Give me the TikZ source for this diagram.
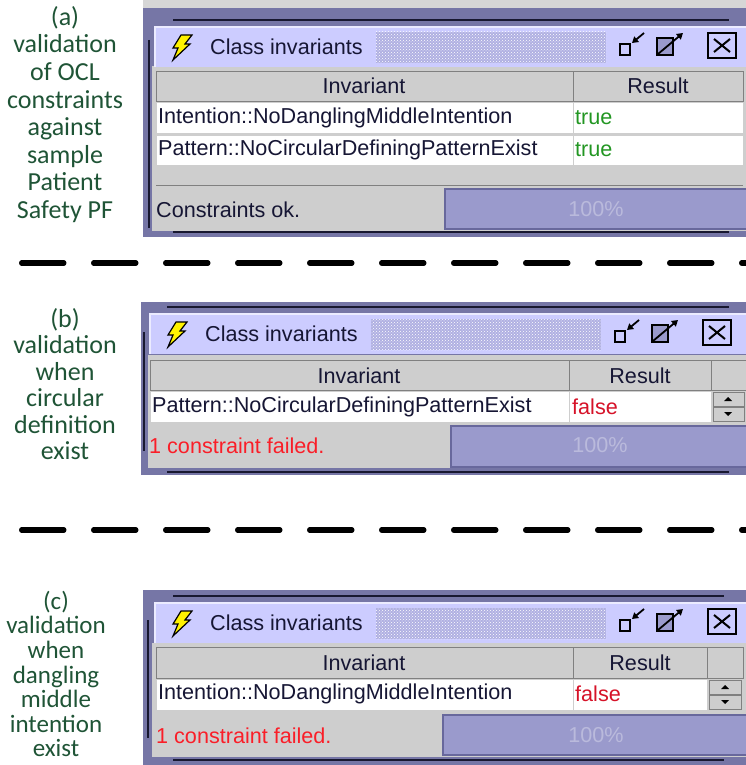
\documentclass[tikz,border=0pt]{standalone}
\usepackage{fontspec}
\setmainfont{Liberation Sans}
\newfontfamily\labelfont{Carlito}
\usetikzlibrary{patterns,arrows.meta}

\definecolor{framegray}{RGB}{118,118,166}
\definecolor{stripgray}{RGB}{214,214,214}
\definecolor{titlelav}{RGB}{204,204,255}
\definecolor{dotlav}{RGB}{176,176,226}
\definecolor{cellgray}{RGB}{206,206,206}
\definecolor{barblue}{RGB}{154,154,204}
\definecolor{barline}{RGB}{104,104,156}
\definecolor{darkline}{RGB}{24,24,48}
\definecolor{wincolor}{RGB}{22,22,52}
\definecolor{okgreen}{RGB}{34,150,34}
\definecolor{failred}{RGB}{214,18,40}
\definecolor{msgred}{RGB}{250,30,40}
\definecolor{pcttext}{RGB}{186,186,220}
\definecolor{capgreen}{RGB}{31,84,54}

\tikzset{
  caption/.style={text=capgreen, align=center, inner sep=0pt},
  wintext/.style={font=\fontsize{21.6}{24}\selectfont, text=wincolor, inner sep=0pt},
  darkrule/.style={draw=darkline, line width=2pt},
  headcell/.style={fill=cellgray, draw=gray},
  bodycell/.style={fill=white, draw=cellgray},
  scrollbtn/.style={fill=cellgray, draw=gray, line width=1pt},
  progress/.style={fill=barblue, draw=barline, line width=1.5pt},
  icon/.style={draw=black, line width=1.8pt},
  sepline/.style={draw=black, line width=5.5pt, line cap=round, dash pattern=on 42pt off 30pt}
}

% title bar of one "Class invariants" window, #1,#2 = top left, #3 = name prefix
\newcommand{\wintitle}[3]{%
  \begin{scope}[shift={(#1,#2)}]
    \fill[titlelav] (0,0) rectangle (600,40);
    \draw[white!60!titlelav, line width=1.5pt] (0,40) -- (0,0) -- (600,0);
    \fill[dotlav] (221,5) rectangle (451,36);
    \fill[pattern=crosshatch dots, pattern color=white] (221,5) rectangle (451,36);
    \filldraw[fill=yellow, draw=black, line width=1.2pt] (26,8) -- (37,8) -- (30,17) -- (35,17) -- (18,33) -- (23,21) -- (18,21) -- cycle;
    \node[wintext, anchor=west] (#3-title) at (55,20) {Class invariants};
    \draw[icon] (465,17) rectangle (475,28);
    \draw[icon, -{Triangle[length=6pt,width=7pt]}] (489,6) -- (477,16);
    \filldraw[icon, fill=barblue] (502,11) rectangle (518,28);
    \draw[icon, -{Triangle[length=6pt,width=7pt]}] (503,27) -- (528,6);
    \filldraw[icon, line width=2.5pt, fill=titlelav] (553,6) rectangle (581,31);
    \draw[icon, line width=2pt] (559,12) -- (575,25) (559,25) -- (575,12);
  \end{scope}}

\begin{document}
\begin{tikzpicture}[x=1pt,y=-1pt]
  \useasboundingbox (0,0) rectangle (746,765);
  \clip (0,0) rectangle (746,765);

  \node[caption, font=\labelfont\fontsize{26}{27.6}\selectfont] (capa) at (65,114.5) {(a)\\validation\\of OCL\\constraints\\against\\sample\\Patient\\Safety PF};
  \node[caption, font=\labelfont\fontsize{26}{26.4}\selectfont] (capb) at (65,384) {(b)\\validation\\when\\circular\\definition\\exist};
  \node[caption, font=\labelfont\fontsize{25}{24.6}\selectfont] (capc) at (56,674) {(c)\\validation\\when\\dangling\\middle\\intention\\exist};

  % (a)
  \fill[stripgray] (143,0) rectangle (746,8);
  \fill[framegray] (143,8) rectangle (746,237);
  \draw[darkrule] (173,20) -- (729,20);
  \draw[darkrule] (149,40) -- (149,228);
  \fill[cellgray] (152,66) rectangle (746,231);
  \wintitle{155}{27}{a}
  \draw[headcell] (156,71) rectangle (573,101);
  \draw[headcell] (573,71) rectangle (743,101);
  \draw[bodycell] (156,102) rectangle (573,133);
  \draw[bodycell] (573,102) rectangle (743,133);
  \draw[bodycell] (156,135) rectangle (573,165);
  \draw[bodycell] (573,135) rectangle (743,165);
  \draw[gray] (156,185) -- (743,185);
  \fill[cellgray] (155,189) rectangle (445,229);
  \draw[progress] (445,189) rectangle (750,229);
  \draw[darkrule] (173,232) -- (729,232);
  \node[wintext] (a-inv) at (364,86) {Invariant};
  \node[wintext] (a-res) at (658,86) {Result};
  \node[wintext, anchor=west] (a-row1) at (158,118) {Intention::NoDanglingMiddleIntention};
  \node[wintext, anchor=west, text=okgreen] (a-val1) at (575,118) {true};
  \node[wintext, anchor=west] (a-row2) at (158,150) {Pattern::NoCircularDefiningPatternExist};
  \node[wintext, anchor=west, text=okgreen] (a-val2) at (575,150) {true};
  \node[wintext, anchor=west] (a-msg) at (156,210) {Constraints ok.};
  \node[wintext, text=pcttext] (a-pct) at (596,209) {100\%};

  \coordinate (sep1w) at (21.75,263);
  \coordinate (sep1e) at (760,263);
  \draw[sepline] (sep1w) -- (sep1e);

  % (b)
  \fill[framegray] (141,302) rectangle (746,475);
  \draw[darkrule] (167,307) -- (729,307);
  \draw[darkrule] (144,332) -- (144,451);
  \fill[cellgray] (148,355) rectangle (746,468);
  \wintitle{150}{314}{b}
  \draw[headcell] (150,360) rectangle (569,390);
  \draw[headcell] (569,360) rectangle (711,390);
  \draw[headcell] (711,360) rectangle (746,390);
  \draw[bodycell] (150,391) rectangle (569,422);
  \draw[bodycell] (569,391) rectangle (711,422);
  \draw[scrollbtn] (713,392) rectangle (744,406);
  \draw[scrollbtn] (713,407) rectangle (744,421);
  \fill[black] (724,401) -- (732,401) -- (728,397) -- cycle;
  \fill[black] (724,412) -- (732,412) -- (728,416) -- cycle;
  \fill[cellgray] (148,426) rectangle (451,467);
  \draw[progress] (451,426) rectangle (750,467);
  \draw[darkrule] (167,472) -- (729,472);
  \node[wintext] (b-inv) at (359,376) {Invariant};
  \node[wintext] (b-res) at (640,376) {Result};
  \node[wintext, anchor=west] (b-row1) at (152,407) {Pattern::NoCircularDefiningPatternExist};
  \node[wintext, anchor=west, text=failred] (b-val1) at (572,407) {false};
  \node[wintext, anchor=west, text=msgred] (b-msg) at (149,446) {1 constraint failed.};
  \node[wintext, text=pcttext] (b-pct) at (600,445) {100\%};

  \coordinate (sep2w) at (21.75,530);
  \coordinate (sep2e) at (760,530);
  \draw[sepline] (sep2w) -- (sep2e);

  % (c)
  \fill[framegray] (143,590) rectangle (746,765);
  \draw[darkrule] (173,596) -- (724,596);
  \draw[darkrule] (148,620) -- (148,738);
  \fill[cellgray] (152,643) rectangle (746,757);
  \wintitle{155}{603}{c}
  \draw[headcell] (156,647) rectangle (573,678);
  \draw[headcell] (573,647) rectangle (707,678);
  \draw[headcell] (707,647) rectangle (743,678);
  \draw[bodycell] (156,679) rectangle (573,710);
  \draw[bodycell] (573,679) rectangle (707,710);
  \draw[scrollbtn] (709,680) rectangle (741,694);
  \draw[scrollbtn] (709,695) rectangle (741,709);
  \fill[black] (721,689) -- (729,689) -- (725,685) -- cycle;
  \fill[black] (721,700) -- (729,700) -- (725,704) -- cycle;
  \fill[cellgray] (155,715) rectangle (443,755);
  \draw[progress] (443,715) rectangle (750,755);
  \draw[darkrule] (173,760) -- (724,760);
  \node[wintext] (c-inv) at (364,663) {Invariant};
  \node[wintext] (c-res) at (640,663) {Result};
  \node[wintext, anchor=west] (c-row1) at (158,694) {Intention::NoDanglingMiddleIntention};
  \node[wintext, anchor=west, text=failred] (c-val1) at (575,694) {false};
  \node[wintext, anchor=west, text=msgred] (c-msg) at (156,736) {1 constraint failed.};
  \node[wintext, text=pcttext] (c-pct) at (596,735) {100\%};
\end{tikzpicture}
\end{document}
